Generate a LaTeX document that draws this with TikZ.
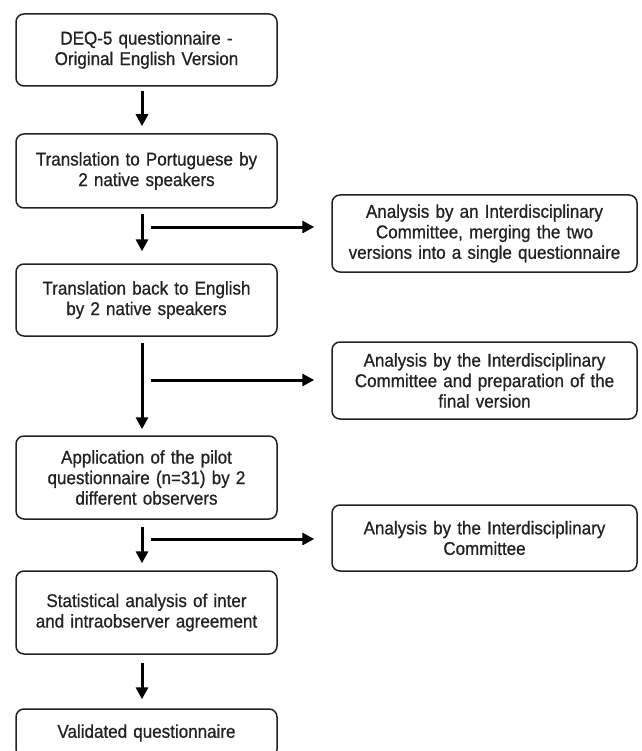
\documentclass[tikz,border=0pt]{standalone}
\usepackage{fontspec}
\setmainfont{Liberation Sans}[FakeStretch=0.92, FakeBold=0.8]
\usetikzlibrary{arrows.meta}
\definecolor{ink}{HTML}{222222}
\tikzset{
  box/.style={draw=ink, line width=1.5pt, rounded corners=8pt, align=center,
    text=ink, inner sep=2pt, font=\fontsize{18.5}{20.5}\selectfont},
  lbox/.style={box, minimum width=261pt, text width=257pt},
  rbox/.style={box, minimum width=305pt, text width=301pt},
  arr/.style={draw=black, line width=3pt, -{Triangle[length=12pt,width=12pt]}},
}
\begin{document}
\begin{tikzpicture}[x=1pt,y=-1pt]
\clip (0,0) rectangle (641,751);
\useasboundingbox (0,0) rectangle (641,751);
\node[lbox, minimum height=72pt] (b1) at (146.5,50) {DEQ-5 questionnaire -\\Original English Version};
\node[lbox, minimum height=74pt] (b2) at (146.5,171) {Translation to Portuguese by\\2 native speakers};
\node[lbox, minimum height=72pt] (b3) at (146.5,300) {Translation back to English\\by 2 native speakers};
\node[lbox, minimum height=83pt] (b4) at (146.5,477.5) {Application of the pilot\\questionnaire (n=31) by 2\\different observers};
\node[lbox, minimum height=83pt] (b5) at (146.5,612.5) {Statistical analysis of inter\\and intraobserver agreement};
\node[lbox, minimum height=48pt] (b6) at (146.5,733) {Validated questionnaire};
\node[rbox, minimum height=77pt] (r1) at (484.5,233.5) {Analysis by an Interdisciplinary\\Committee, merging the two\\versions into a single questionnaire};
\node[rbox, minimum height=77pt] (r2) at (484.5,380.5) {Analysis by the Interdisciplinary\\Committee and preparation of the\\final version};
\node[rbox, minimum height=66pt] (r3) at (484.5,538) {Analysis by the Interdisciplinary\\Committee};
% vertical arrows
\draw[arr] ([xshift=-4.5pt,yshift=-4pt]b1.south) -- ([xshift=-4.5pt,yshift=7pt]b2.north);
\draw[arr] ([xshift=-4.5pt,yshift=-5pt]b2.south) -- ([xshift=-4.5pt,yshift=12pt]b3.north);
\draw[arr] ([xshift=-4.5pt,yshift=-6pt]b3.south) -- ([xshift=-4.5pt,yshift=6pt]b4.north);
\draw[arr] ([xshift=-4.5pt,yshift=-7pt]b4.south) -- ([xshift=-4.5pt,yshift=7pt]b5.north);
\draw[arr] ([xshift=-4.5pt,yshift=-8pt]b5.south) -- ([xshift=-4.5pt,yshift=9pt]b6.north);
% side arrows
\coordinate (h1) at (151,227);
\coordinate (h2) at (151,380);
\coordinate (h3) at (151,539);
\draw[arr, shorten >=17pt] (h1) -- (h1 -| r1.west);
\draw[arr, shorten >=17pt] (h2) -- (h2 -| r2.west);
\draw[arr, shorten >=17pt] (h3) -- (h3 -| r3.west);
\end{tikzpicture}
\end{document}
